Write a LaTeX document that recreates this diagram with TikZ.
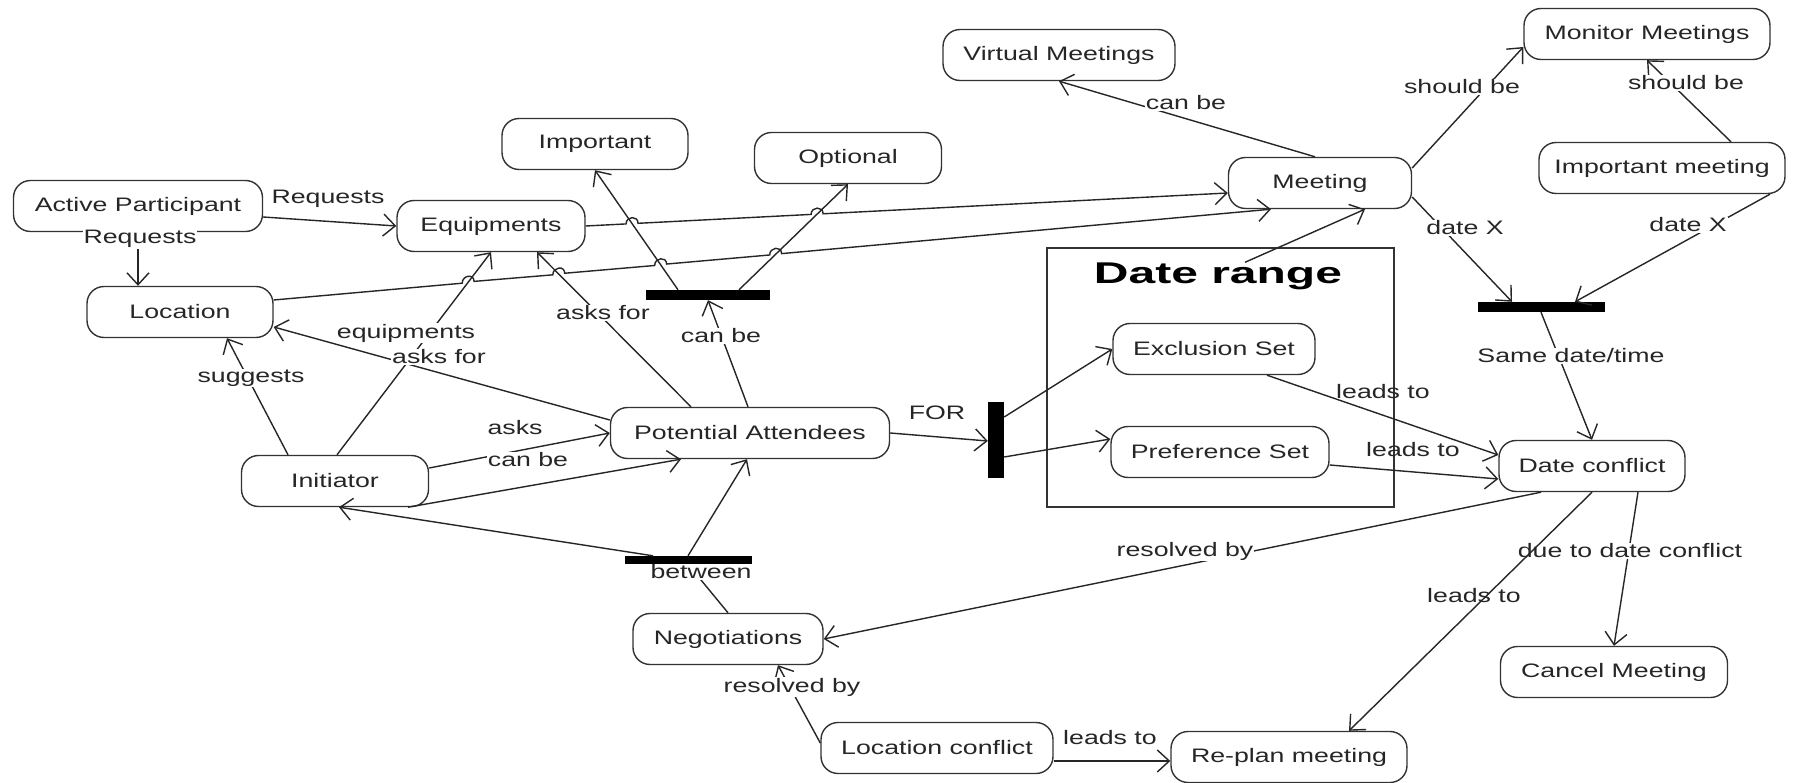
\documentclass[tikz,border=0pt]{standalone}
\usepackage{fontspec}
\setmainfont{Liberation Sans}[FakeStretch=1.37]
\newfontfamily\titlefont{Liberation Sans}[FakeStretch=1.6]
\usetikzlibrary{arrows.meta,calc,intersections}
\newcommand\nf{\fontsize{19.5}{22}\selectfont}
\newcommand\tf{\titlefont\fontsize{30}{34}\selectfont\bfseries}
\begin{document}
\begin{tikzpicture}[x=1pt,y=-1pt,
  box/.style={draw=black!80,fill=white,line width=1.4pt,rounded corners=17pt,minimum height=51pt,inner sep=0pt,font=\nf,text=black!85},
  bar/.style={fill=black,draw=none,inner sep=0pt},
  arr/.style={draw=black!85,line width=1.4pt,-{Straight Barb[length=12pt,width=22pt]}},
  ln/.style={draw=black!85,line width=1.4pt},
  lbl/.style={font=\nf,text=black!85,inner sep=1pt},
  lblw/.style={lbl,fill=white}]
\fill[white] (0,0) rectangle (1805,783);
\useasboundingbox (0,0) rectangle (1805,783);

% Date range frame
\node[draw=black!80,line width=1.4pt,minimum width=347pt,minimum height=259pt,inner sep=0pt] (dr) at (1220.5,377.5) {};
\node[font=\tf,inner sep=0pt] (drt) at (1218,276) {Date range};

% nodes
\node[box,minimum width=232pt] (vm) at (1059,55) {Virtual Meetings};
\node[box,minimum width=246pt] (mm) at (1647,34) {Monitor Meetings};
\node[box,minimum width=186pt] (imp) at (595,144) {Important};
\node[box,minimum width=187pt] (opt) at (848,158) {Optional};
\node[box,minimum width=183pt] (meet) at (1320,183) {Meeting};
\node[box,minimum width=246pt] (im) at (1662,168) {Important meeting};
\node[box,minimum width=249pt] (ap) at (138,206) {Active Participant};
\node[box,minimum width=188pt] (eq) at (491,226) {Equipments};
\node[box,minimum width=186pt] (loc) at (180,312) {Location};
\node[box,minimum width=202pt] (es) at (1214,349) {Exclusion Set};
\node[box,minimum width=279pt] (pa) at (750,433) {Potential Attendees};
\node[box,minimum width=218pt] (ps) at (1220,452) {Preference Set};
\node[box,minimum width=186pt] (dc) at (1592,466) {Date conflict};
\node[box,minimum width=187pt] (ini) at (335,481) {Initiator};
\node[box,minimum width=190pt] (neg) at (728,639) {Negotiations};
\node[box,minimum width=227pt] (cm) at (1614,672) {Cancel Meeting};
\node[box,minimum width=232pt] (lc) at (937,748) {Location conflict};
\node[box,minimum width=236pt] (rp) at (1289,757) {Re-plan meeting};

% bars
\node[bar,minimum width=124pt,minimum height=10pt] (b1) at (708,295) {};
\node[bar,minimum width=16pt,minimum height=75pt] (bf) at (996,440) {};
\node[bar,minimum width=127pt,minimum height=10pt] (b3) at (1541,307) {};
\node[bar,minimum width=127pt,minimum height=8pt] (b4) at (688,560) {};

% paths used for the line hops
\path[name path=pimp] ([xshift=-30pt]b1.north) -- (imp.south);
\path[name path=popt] ([xshift=31pt]b1.north) -- (opt.south);
\path[name path=pieq] ([xshift=2pt]ini.north) -- (eq.south);
\path[name path=paeq] ([xshift=-59pt]pa.north) -- ([xshift=46pt]eq.south);
\path[name path=peqm] (eq.east) -- ([yshift=-10pt]meet.west);
\path[name path=plocm] ([yshift=12pt]loc.east) -- ([xshift=-49pt]meet.south);
\path[name intersections={of=peqm and pimp,by=h1}];
\path[name intersections={of=peqm and popt,by=h2}];
\path[name intersections={of=plocm and pieq,by=h3}];
\path[name intersections={of=plocm and paeq,by=h4}];
\path[name intersections={of=plocm and pimp,by=h5}];
\path[name intersections={of=plocm and popt,by=h6}];

% connectors
\draw[arr] ([yshift=-11pt]ap.east) -- (eq.west);
\draw[arr] (ap.south) -- (ap.south |- loc.north);
\draw[arr] (eq.east)
  -- ($(h1)!6pt!(eq.east)$) .. controls +(0,-8) and +(0,-8) .. ($(h1)!-6pt!(eq.east)$)
  -- ($(h2)!6pt!(eq.east)$) .. controls +(0,-8) and +(0,-8) .. ($(h2)!-6pt!(eq.east)$)
  -- ([yshift=-10pt]meet.west);
\draw[arr] ([yshift=12pt]loc.east)
  -- ($(h3)!6pt!(loc.east)$) .. controls +(0,-8) and +(0,-8) .. ($(h3)!-6pt!(loc.east)$)
  -- ($(h4)!6pt!(loc.east)$) .. controls +(0,-8) and +(0,-8) .. ($(h4)!-6pt!(loc.east)$)
  -- ($(h5)!6pt!(loc.east)$) .. controls +(0,-8) and +(0,-8) .. ($(h5)!-6pt!(loc.east)$)
  -- ($(h6)!6pt!(loc.east)$) .. controls +(0,-8) and +(0,-8) .. ($(h6)!-6pt!(loc.east)$)
  -- ([xshift=-49pt]meet.south);
\draw[arr] ([xshift=27pt]drt.north) -- ([xshift=45pt]meet.south);
\draw[arr] ([xshift=-5pt]meet.north) -- (vm.south);
\draw[arr] ([yshift=15pt]meet.east) -- ([yshift=-13pt]mm.west);
\draw[arr] ([xshift=69pt]im.north) -- (mm.south);
\draw[arr] ([yshift=-14pt]meet.east) -- ([xshift=-29pt]b3.north);
\draw[arr] ([xshift=108pt]im.south) -- ([xshift=34pt]b3.north);
\draw[arr] (b3.south) -- (dc.north);
\draw[arr] ([xshift=-30pt]b1.north) -- (imp.south);
\draw[arr] ([xshift=31pt]b1.north) -- (opt.south);
\draw[arr] ([xshift=-2pt]pa.north) -- (b1.south);
\draw[arr] ([xshift=-59pt]pa.north) -- ([xshift=46pt]eq.south);
\draw[arr] ([yshift=13pt]pa.west) -- ([yshift=-15pt]loc.east);
\draw[arr] ([xshift=-47pt]ini.north) -- ([xshift=47pt]loc.south);
\draw[arr] ([xshift=2pt]ini.north) -- (eq.south);
\draw[arr] ([yshift=13pt]ini.east) -- (pa.west);
\draw[arr] ([xshift=73pt]ini.south) -- ([xshift=-69pt]pa.south);
\draw[arr] ([xshift=-35pt]b4.north) -- ([xshift=4pt]ini.south);
\draw[arr] (b4.north) -- ([xshift=-3pt]pa.south);
\draw[ln] (neg.north) -- (b4.south);
\draw[arr] (pa.east) -- ([yshift=-1pt]bf.west);
\draw[arr] ([yshift=23pt]bf.east) -- (es.west);
\draw[arr] ([yshift=-17pt]bf.east) -- ([yshift=13pt]ps.west);
\draw[arr] ([xshift=53pt]es.south) -- ([yshift=11pt]dc.west);
\draw[arr] ([yshift=-13pt]ps.east) -- ([yshift=-13pt]dc.west);
\draw[arr] ([xshift=-51pt]dc.south) -- (neg.east);
\draw[arr] ([xshift=46pt]dc.south) -- (cm.north);
\draw[arr] ([yshift=5pt]lc.west) -- ([xshift=50pt]neg.south);
\draw[arr] ([yshift=-13pt]lc.east) -- ([yshift=-13pt]lc.east -| rp.west);

% labels
\node[lbl]  (t1)  at (328,199)  {Requests};
\node[lblw] (t2)  at (140,239)  {Requests};
\node[lblw] (t3)  at (1186,103) {can be};
\node[lblw] (t4)  at (1462,87)  {should be};
\node[lblw] (t5)  at (1686,83)  {should be};
\node[lblw] (t6)  at (1465,228) {date X};
\node[lblw] (t7)  at (1688,225) {date X};
\node[lblw] (t8)  at (1571,356) {Same date/time};
\node[lblw] (t9)  at (721,336)  {can be};
\node[lblw] (t10) at (603,313)  {asks for};
\node[lblw] (t11) at (406,333)  {equipments};
\node[lblw] (t12) at (439,357)  {asks for};
\node[lblw] (t13) at (251,378)  {suggests};
\node[lbl]  (t14) at (515,428)  {asks};
\node[lblw] (t15) at (528,460)  {can be};
\node[lblw] (t16) at (701,572)  {between};
\node[lbl]  (t17) at (937,413)  {FOR};
\node[lbl]  (t18) at (1383,392) {leads to};
\node[lbl]  (t19) at (1413,450) {leads to};
\node[lblw] (t20) at (1185,551) {resolved by};
\node[lblw] (t21) at (1474,596) {leads to};
\node[lblw] (t22) at (1630,551) {due to date conflict};
\node[lblw] (t23) at (792,687)  {resolved by};
\node[lbl]  (t24) at (1110,738) {leads to};

% drawn last: crosses the label "due to date conflict"
\draw[arr] (dc.south) -- ([xshift=60pt]rp.north);
\end{tikzpicture}
\end{document}
